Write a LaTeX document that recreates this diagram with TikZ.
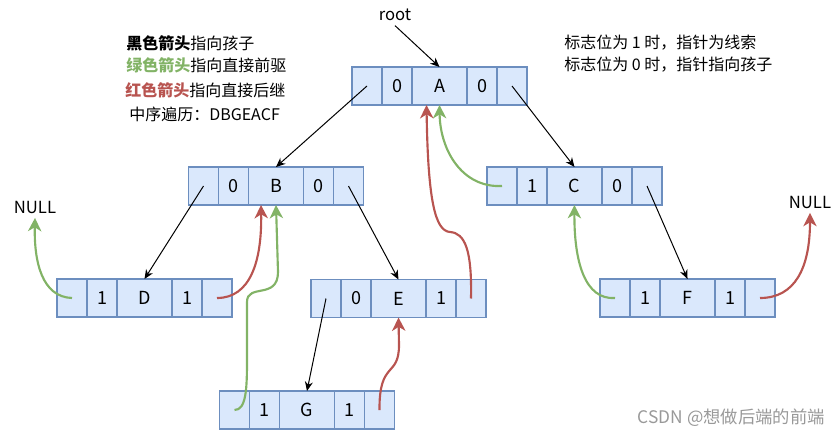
\documentclass[tikz,border=0pt]{standalone}
\usepackage{fontspec}
\setmainfont{Noto Sans CJK SC}
\usetikzlibrary{positioning,calc,arrows.meta}
\definecolor{boxfill}{HTML}{DAE8FC}
\definecolor{boxline}{HTML}{6C8EBF}
\definecolor{predgreen}{HTML}{82B366}
\definecolor{succred}{HTML}{B85450}

\begin{document}
\begin{tikzpicture}[x=0.75pt,y=-0.75pt,
  cell/.style={draw=boxline,fill=boxfill,line width=1pt,minimum width=22.5pt,
    minimum height=28.5pt,inner sep=0pt,outer sep=0pt,font=\fontsize{13.5}{16}\selectfont},
  child/.style={-{Stealth[length=7pt,width=6pt]},line width=0.75pt},
  pred/.style={-{Stealth[length=10pt,width=10pt,inset=3pt]},line width=1.6pt,predgreen},
  succ/.style={pred,succred},
  txt/.style={anchor=west,inner sep=0pt,font=\fontsize{12}{14}\selectfont}]
  \useasboundingbox (0,0) rectangle (839,439);
	\def\rec#1#2#3#4#5{% name, left cell, tag, data, tag
		\node[cell] (#1l) at (#2) {};
		\node[cell,right=0pt of #1l] (#1lt) {#3};
		\node[cell,minimum width=41.25pt,right=0pt of #1lt] (#1) {#4};
		\node[cell,right=0pt of #1] (#1rt) {#5};
		\node[cell,right=0pt of #1rt] (#1r) {};}

	\rec{A}{367,86}{0}{A}{0}
	\rec{B}{203.5,186}{0}{B}{0}
	\rec{C}{502,186}{1}{C}{0}
	\rec{D}{72,298}{1}{D}{1}
	\rec{E}{326,298.5}{0}{E}{1}
	\rec{F}{615,298}{1}{F}{1}
	\rec{G}{234.5,410}{1}{G}{1}

	\node[font=\fontsize{12.5}{15}\selectfont] (root) at (395,15) {root};
	\node[font=\fontsize{12.5}{15}\selectfont] (nullL) at (35,207) {NULL};
	\node[font=\fontsize{12.5}{15}\selectfont] (nullR) at (810,202) {NULL};

%	legend
	\node[txt] (key1) at (126,43) {\textbf{黑色箭头}指向孩子};
	\node[txt] (key2) at (126,65) {\textcolor{predgreen}{\textbf{绿色箭头}}指向直接前驱};
	\node[txt] (key3) at (125,90) {\textcolor{succred}{\textbf{红色箭头}}指向直接后继};
	\node[txt] (order) at (129,114) {中序遍历：DBGEACF};
	\node[txt] (note1) at (564,43) {标志位为 1 时，指针为线索};
	\node[txt] (note2) at (564,65) {标志位为 0 时，指针指向孩子};
	\node[anchor=east,inner sep=0pt,text=black!40,font=\fontsize{13}{15}\selectfont] (mark) at (825,418) {CSDN @想做后端的前端};

%	children
	\draw[child] (root.south) -- (A.north);
	\draw[child] (Al.center) -- (B.north);
	\draw[child] (Ar.center) -- (C.north);
	\draw[child] (Bl.center) -- (D.north);
	\draw[child] (Br.center) -- (E.north);
	\draw[child] (Cr.center) -- (F.north);
	\draw[child] (El.center) -- (G.north);

%	threads
	\draw[pred] (Dl.center) .. controls (42,297) and (34,262) .. (nullL.south);
	\draw[pred] (Gl.center) .. controls (246,410) and (247,390) .. (247,360) -- (247,302)
		.. controls (247,283) and (278,300) .. (278,272) -- (B.south);
	\draw[pred] (Cl.center) .. controls (462,188) and (440,150) .. (A.south);
	\draw[pred] (Fl.center) .. controls (585,300) and (574,262) .. (C.south);
	\draw[succ] (Dr.center) .. controls (250,298) and (262,262) .. ($(B.south)+(-15,0)$);
	\draw[succ] (Er.center) .. controls (472,250) and (465,233) .. (450,232)
		.. controls (435,231) and (428,200) .. ($(A.south)+(-13,0)$);
	\draw[succ] (Gr.center) .. controls (379,360) and (399,378) .. (399,345) -- (E.south);
	\draw[succ] (Fr.center) .. controls (795,298) and (810,268) .. (nullR.south);
\end{tikzpicture}
\end{document}
